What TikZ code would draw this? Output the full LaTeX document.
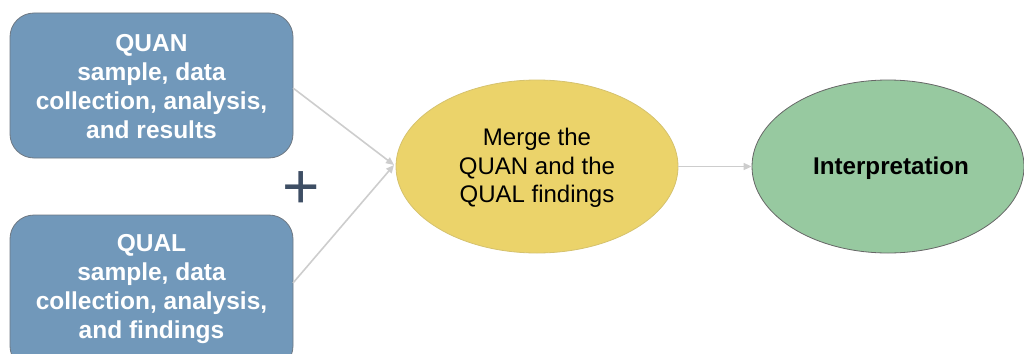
\documentclass[tikz,border=0pt]{standalone}
\usepackage{fontspec}
\setmainfont{Liberation Sans}
\usetikzlibrary{shapes.geometric,arrows.meta}
\definecolor{boxblue}{RGB}{113,152,186}
\definecolor{boxedge}{RGB}{110,120,130}
\definecolor{mergeyellow}{RGB}{235,211,106}
\definecolor{interpgreen}{RGB}{151,201,160}
\definecolor{linkgray}{RGB}{205,205,205}
\definecolor{plusslate}{RGB}{62,78,100}
\tikzset{
  strandbox/.style={draw=boxedge, line width=0.8pt, fill=boxblue, rounded corners=24pt},
  strandtext/.style={text=white, font=\fontsize{24.5}{29}\selectfont\bfseries, align=center},
  mergeoval/.style={ellipse, draw=mergeyellow!80!gray, line width=0.8pt, fill=mergeyellow,
    minimum width=282pt, minimum height=173pt, inner sep=0pt},
  mergetext/.style={font=\fontsize{24}{28.5}\selectfont, align=center},
  interpoval/.style={ellipse, draw=gray!80!black, line width=0.8pt, fill=interpgreen,
    minimum width=272pt, minimum height=173pt, inner sep=0pt},
  interptext/.style={font=\fontsize{24.2}{28}\selectfont\bfseries},
  link/.style={draw=linkgray, line width=1.6pt, -{Triangle[length=8pt,width=7pt]}}
}
\begin{document}
\begin{tikzpicture}[x=1pt,y=-1pt]
  \useasboundingbox (0,0) rectangle (1024,353);
  \clip (0,0) rectangle (1024,353);
  % left-hand strands
  \draw[strandbox] (10,13) rectangle (293,158);
  \node[strandtext] (quan) at (151.5,86.5)
    {QUAN\\sample, data\\collection, analysis,\\and results};
  \coordinate (quanout) at (293,88);
  \draw[strandbox] (10,215) rectangle (293,370);
  \node[strandtext] (qual) at (151.5,289)
    {QUAL\\sample, data\\collection, analysis,\\and findings};
  \coordinate (qualout) at (293,283);
  % plus sign between the strands
  \node[text=plusslate, font=\fontsize{64}{64}\selectfont, inner sep=0pt] (plus) at (301,190) {+};
  % merging step and interpretation
  \node[mergeoval] (merge) at (537,166.5) {};
  \node[mergetext] (mergelabel) at (537,168) {Merge the\\QUAN and the\\QUAL findings};
  \node[interpoval] (interp) at (888,166.5) {};
  \node[interptext] (interplabel) at (891,168) {Interpretation};
  % connectors
  \coordinate (mergein) at (394,165);
  \draw[link] (quanout) -- (mergein);
  \draw[link] (qualout) -- (mergein);
  \draw[link] (merge.east) -- (interp.west);
\end{tikzpicture}
\end{document}
